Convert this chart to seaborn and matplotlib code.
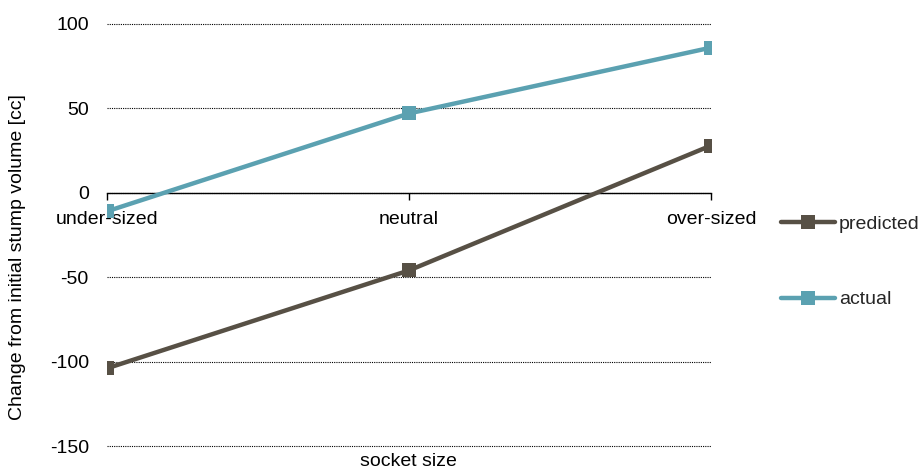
import matplotlib
matplotlib.use("Agg")
import matplotlib.pyplot as plt
import seaborn as sns
import pandas as pd

# Socket-size categories and stump volume change [cc]
categories = ["under-sized", "neutral", "over-sized"]
predicted = [-104, -46, 28]
actual = [-11, 47, 86]
series_names = ["predicted", "actual"]
series_colors = {"predicted": "#575045", "actual": "#5BA1B1"}

df = pd.DataFrame({
    "socket size": categories * 2,
    "change": predicted + actual,
    "series": [series_names[0]] * 3 + [series_names[1]] * 3,
})

sns.set_theme(style="white")
plt.rcParams["font.family"] = ["Liberation Sans", "DejaVu Sans"]
plt.rcParams["axes.unicode_minus"] = False
FS = 14

fig = plt.figure(figsize=(9.21, 4.70), dpi=100)
ax = fig.add_axes([0.116, 0.051, 0.656, 0.898])

sns.lineplot(data=df, x="socket size", y="change", hue="series",
             palette=series_colors, marker="s", markersize=10,
             markeredgewidth=0, linewidth=3.2, ax=ax, sort=False)

ax.set_xlim(0, 2)
ax.set_ylim(-150, 100)
ax.set_yticks([-150, -100, -50, 0, 50, 100])
ax.yaxis.grid(True, linestyle=(0, (1, 1)), color="black", linewidth=0.8)
for gl in ax.yaxis.get_gridlines():
    gl.set_clip_on(False)
ax.set_axisbelow(True)

for side in ["top", "right", "left"]:
    ax.spines[side].set_visible(False)
ax.spines["bottom"].set_position(("data", 0))
ax.spines["bottom"].set_color("black")
ax.spines["bottom"].set_linewidth(1.0)
ax.spines["bottom"].set_zorder(1)

ax.tick_params(axis="x", bottom=True, direction="out", length=5, width=1,
               color="black", pad=8, labelsize=FS, labelcolor="black")
ax.tick_params(axis="y", left=False, length=0, pad=13, labelsize=FS,
               labelcolor="black")

ax.set_xlabel("socket size", fontsize=FS, color="black")
ax.xaxis.set_label_coords(0.5, -0.016)
ax.set_ylabel("Change from initial stump volume [cc]", fontsize=FS, color="black")
ax.yaxis.set_label_coords(-0.134, 0.448)

handles, labels = ax.get_legend_handles_labels()
ax.get_legend().remove()
leg = fig.legend(handles, labels, loc="upper left",
                 bbox_to_anchor=(0.8285, 0.58), frameon=False, fontsize=FS,
                 handlelength=2.8, handletextpad=0.2, labelspacing=3.0)

fig.savefig("out.png", dpi=100)
